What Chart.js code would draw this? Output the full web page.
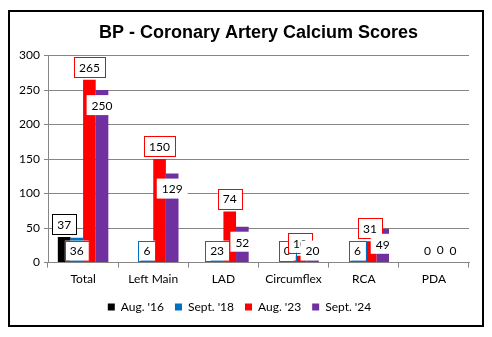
<!DOCTYPE html>
<html>
<head>
<meta charset="utf-8">
<script src="https://cdn.jsdelivr.net/npm/chart.js@4"></script>
<style>
  html, body { margin: 0; padding: 0; background: #fff; }
  #frame { position: absolute; left: 8px; top: 10px; width: 472px; height: 313px; border: 2px solid #000; }
</style>
</head>
<body>
<div id="frame"><canvas id="cac" width="472" height="313"></canvas></div>
<script>
const categories = ['Total', 'Left Main', 'LAD', 'Circumflex', 'RCA', 'PDA'];
const aug16 = [37, null, null, null, null, null];
const sept18 = [36, 6, 23, 0, 6, 0];
const aug23 = [265, 150, 74, 10, 31, 0];
const sept24 = [250, 129, 52, 20, 49, 0];
const yMax = 300;
const yStep = 50;

const fontFamily = 'Lato, "Open Sans", sans-serif';

// draws the boxed value labels like the excel original
const boxLabels = {
    id: 'boxLabels',
    afterDatasetsDraw(chart) {
        const ctx = chart.ctx;
        const base = chart.scales.y.getPixelForValue(0);
        ctx.save();
        ctx.font = '12px ' + fontFamily;
        ctx.textAlign = 'center';
        ctx.textBaseline = 'middle';
        chart.data.datasets.forEach((ds, i) => {
            const meta = chart.getDatasetMeta(i);
            meta.data.forEach((bar, j) => {
                const v = ds.data[j];
                if (v === null) return;
                const text = String(v);
                const w = ctx.measureText(text).width + 10;
                const h = 20;
                let cy;
                if (ds.labelPos === 'above') cy = bar.y - 3 - h / 2;
                else if (ds.labelPos === 'base') cy = base - 2 - h / 2;
                else cy = Math.min(bar.y + 15, base - 12);
                const cx = bar.x;
                const allZero = chart.data.datasets.every(d => !d.data[j]);
                if (!allZero) {
                    ctx.fillStyle = '#fff';
                    ctx.fillRect(cx - w / 2, cy - h / 2, w, h);
                    if (ds.labelBorder) {
                        ctx.strokeStyle = ds.labelBorder;
                        ctx.lineWidth = 1;
                        ctx.strokeRect(Math.round(cx - w / 2) + 0.5, Math.round(cy - h / 2) + 0.5, Math.round(w), h);
                    }
                }
                ctx.fillStyle = '#000';
                ctx.fillText(text, cx, cy + 1);
            });
        });
        ctx.restore();
    }
};

new Chart(document.getElementById('cac'), {
    type: 'bar',
    data: {
        labels: categories,
        datasets: [
            { label: "Aug. '16", data: aug16, backgroundColor: '#000000', labelPos: 'above', labelBorder: '#000000' },
            { label: "Sept. '18", data: sept18, backgroundColor: '#0070C0', labelPos: 'base', labelBorder: '#0070C0' },
            { label: "Aug. '23", data: aug23, backgroundColor: '#FF0000', labelPos: 'above', labelBorder: '#FF0000' },
            { label: "Sept. '24", data: sept24, backgroundColor: '#7030A0', labelPos: 'inside', labelBorder: null }
        ]
    },
    plugins: [boxLabels],
    options: {
        responsive: false,
        animation: false,
        categoryPercentage: 0.72,
        barPercentage: 1,
        layout: { padding: { top: 10, right: 13, bottom: 2, left: 0 } },
        plugins: {
            title: {
                display: true,
                fullSize: false,
                text: 'BP - Coronary Artery Calcium Scores',
                color: '#000',
                font: { family: '"Liberation Sans", Arial, sans-serif', size: 18, weight: 'bold' },
                padding: { top: 0, bottom: 12 }
            },
            legend: {
                position: 'bottom',
                labels: {
                    color: '#000',
                    font: { family: fontFamily, size: 12 },
                    boxWidth: 7,
                    boxHeight: 7,
                    padding: 11
                }
            },
            tooltip: { enabled: false }
        },
        scales: {
            x: {
                grid: {
                    display: true,
                    drawOnChartArea: false,
                    drawTicks: true,
                    tickLength: 5,
                    color: '#868686',
                    offset: true
                },
                border: { color: '#868686' },
                ticks: { color: '#000', font: { family: fontFamily, size: 12 }, padding: 4 }
            },
            y: {
                min: 0,
                max: yMax,
                ticks: { stepSize: yStep, color: '#000', font: { family: fontFamily, size: 12 }, padding: 4 },
                grid: { color: '#868686', tickLength: 4 },
                border: { color: '#868686' },
                afterFit(scale) { scale.width = 38; }
            }
        }
    }
});
</script>
</body>
</html>
